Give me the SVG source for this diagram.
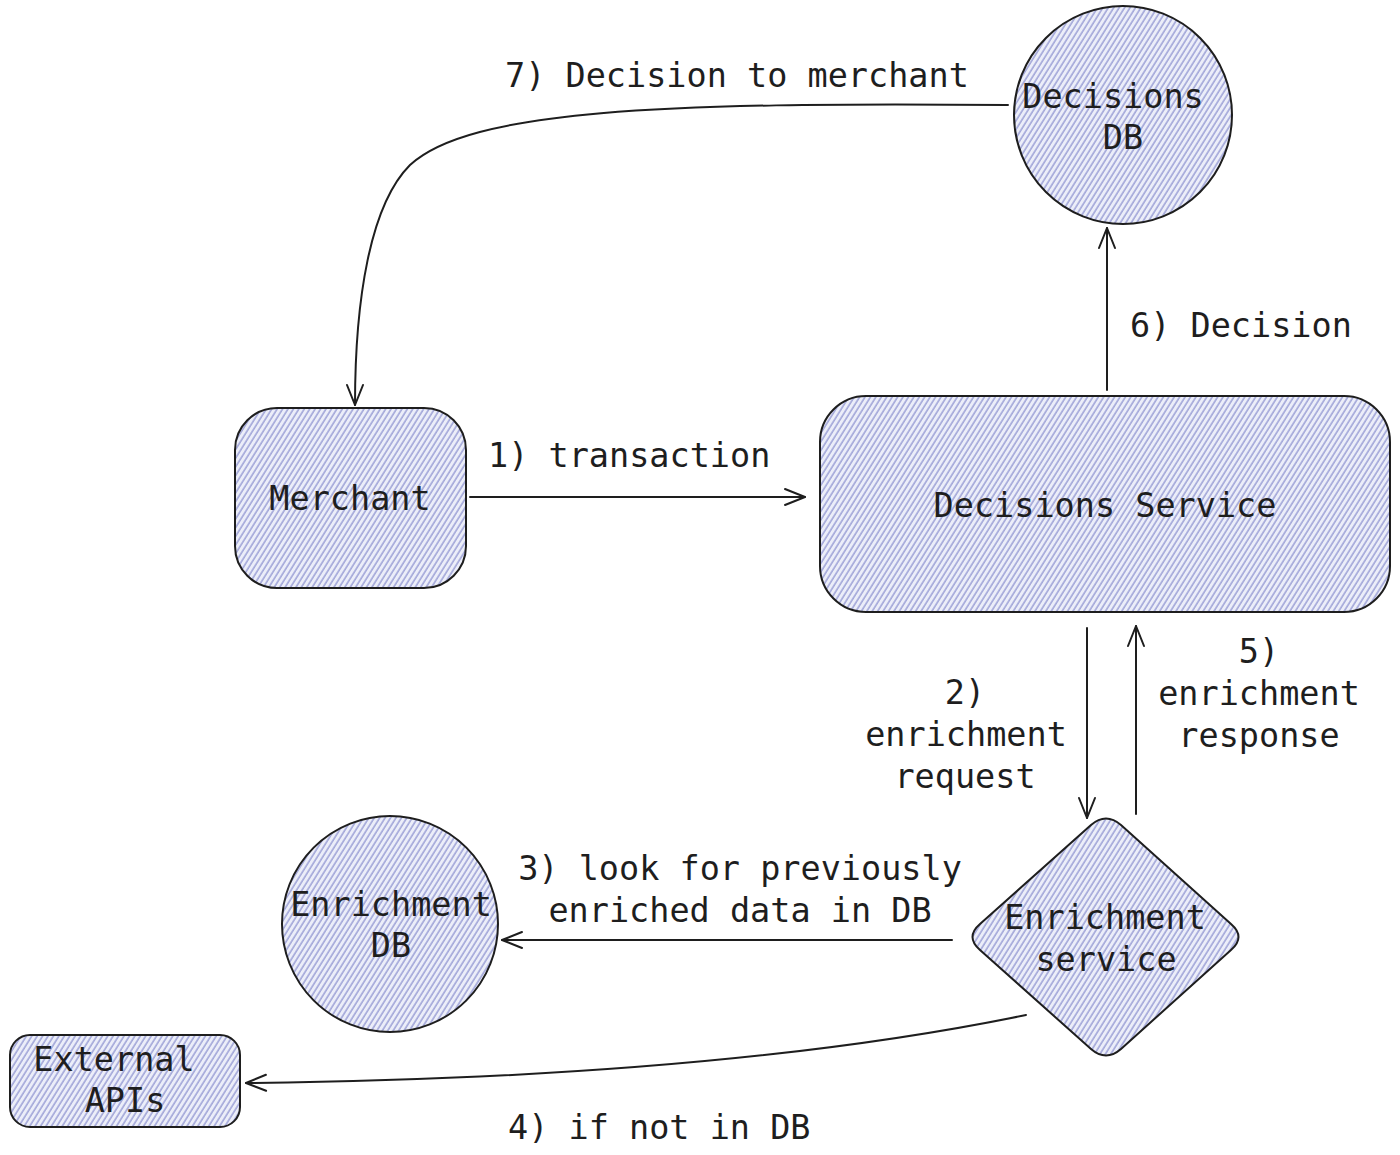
<svg xmlns="http://www.w3.org/2000/svg" width="1400" height="1155" viewBox="0 0 1400 1155">
<defs>
  <pattern id="hatch" width="4.6" height="4.6" patternUnits="userSpaceOnUse" patternTransform="rotate(32)">
    <rect width="4.6" height="4.6" fill="#eceef9"/>
    <line x1="1" y1="0" x2="1" y2="4.6" stroke="#979cd4" stroke-width="1.4"/>
  </pattern>
  <marker id="arr" viewBox="-22 -10 24 20" refX="0" refY="0" markerWidth="24" markerHeight="20" markerUnits="userSpaceOnUse" orient="auto">
    <path d="M-20,-8 L0,0 L-20,8" fill="none" stroke="#1e1e1e" stroke-width="2" stroke-linecap="round" stroke-linejoin="round"/>
  </marker>
</defs>
<style>
  .shape { fill: url(#hatch); stroke: #1e1e1e; stroke-width: 2; }
  .t { font-family: "DejaVu Sans Mono", "Liberation Mono", monospace; font-size: 33.5px; fill: #1e1e1e; }
  .m { text-anchor: middle; }
  .conn { fill: none; stroke: #1e1e1e; stroke-width: 2; stroke-linecap: round; marker-end: url(#arr); }
</style>
<rect width="1400" height="1155" fill="#ffffff"/>

<g id="connectors">
  <path class="conn" d="M470,497 L805,497"/>
  <path class="conn" d="M1107,390 L1107,228"/>
  <path class="conn" d="M1008,105 C660,102 470,110 410,165 C370,205 355,300 355,405"/>
  <path class="conn" d="M1087,628 L1087,818"/>
  <path class="conn" d="M1136,814 L1136,626"/>
  <path class="conn" d="M952,940 L502,940"/>
  <path class="conn" d="M1026,1015 Q720,1078 246,1083"/>
</g>

<g id="edge-labels">
  <text class="t" x="505" y="87">7) Decision to merchant</text>
  <text class="t" x="1130" y="337">6) Decision</text>
  <text class="t" x="488" y="467">1) transaction</text>
  <text class="t m" x="965" y="704">2)</text>
  <text class="t m" x="966" y="746">enrichment</text>
  <text class="t m" x="965" y="788">request</text>
  <text class="t m" x="1259" y="663">5)</text>
  <text class="t m" x="1259" y="705">enrichment</text>
  <text class="t m" x="1259" y="747">response</text>
  <text class="t m" x="740" y="880">3) look for previously</text>
  <text class="t m" x="740" y="922">enriched data in DB</text>
  <text class="t" x="508" y="1139">4) if not in DB</text>
</g>

<g id="merchant">
  <rect class="shape" x="235" y="408" width="231" height="180" rx="42"/>
  <text class="t m" x="350" y="510">Merchant</text>
</g>

<g id="decisions-service">
  <rect class="shape" x="820" y="396" width="570" height="216" rx="46"/>
  <text class="t m" x="1105" y="517">Decisions Service</text>
</g>

<g id="decisions-db">
  <circle class="shape" cx="1123" cy="115" r="109"/>
  <text class="t m" x="1113" y="108">Decisions</text>
  <text class="t m" x="1123" y="149">DB</text>
</g>

<g id="enrichment-db">
  <circle class="shape" cx="390" cy="924" r="108"/>
  <text class="t m" x="391" y="916">Enrichment</text>
  <text class="t m" x="391" y="957">DB</text>
</g>

<g id="enrichment-service">
  <path class="shape" d="M1091,825 Q1106,812 1121,825 L1231,924 Q1246,937 1231,950 L1121,1049 Q1106,1062 1091,1049 L980,950 Q965,937 980,924 Z"/>
  <text class="t m" x="1105" y="929">Enrichment</text>
  <text class="t m" x="1106" y="971">service</text>
</g>

<g id="external-apis">
  <rect class="shape" x="10" y="1035" width="230" height="92" rx="20"/>
  <text class="t m" x="114" y="1071">External</text>
  <text class="t m" x="125" y="1112">APIs</text>
</g>
</svg>
